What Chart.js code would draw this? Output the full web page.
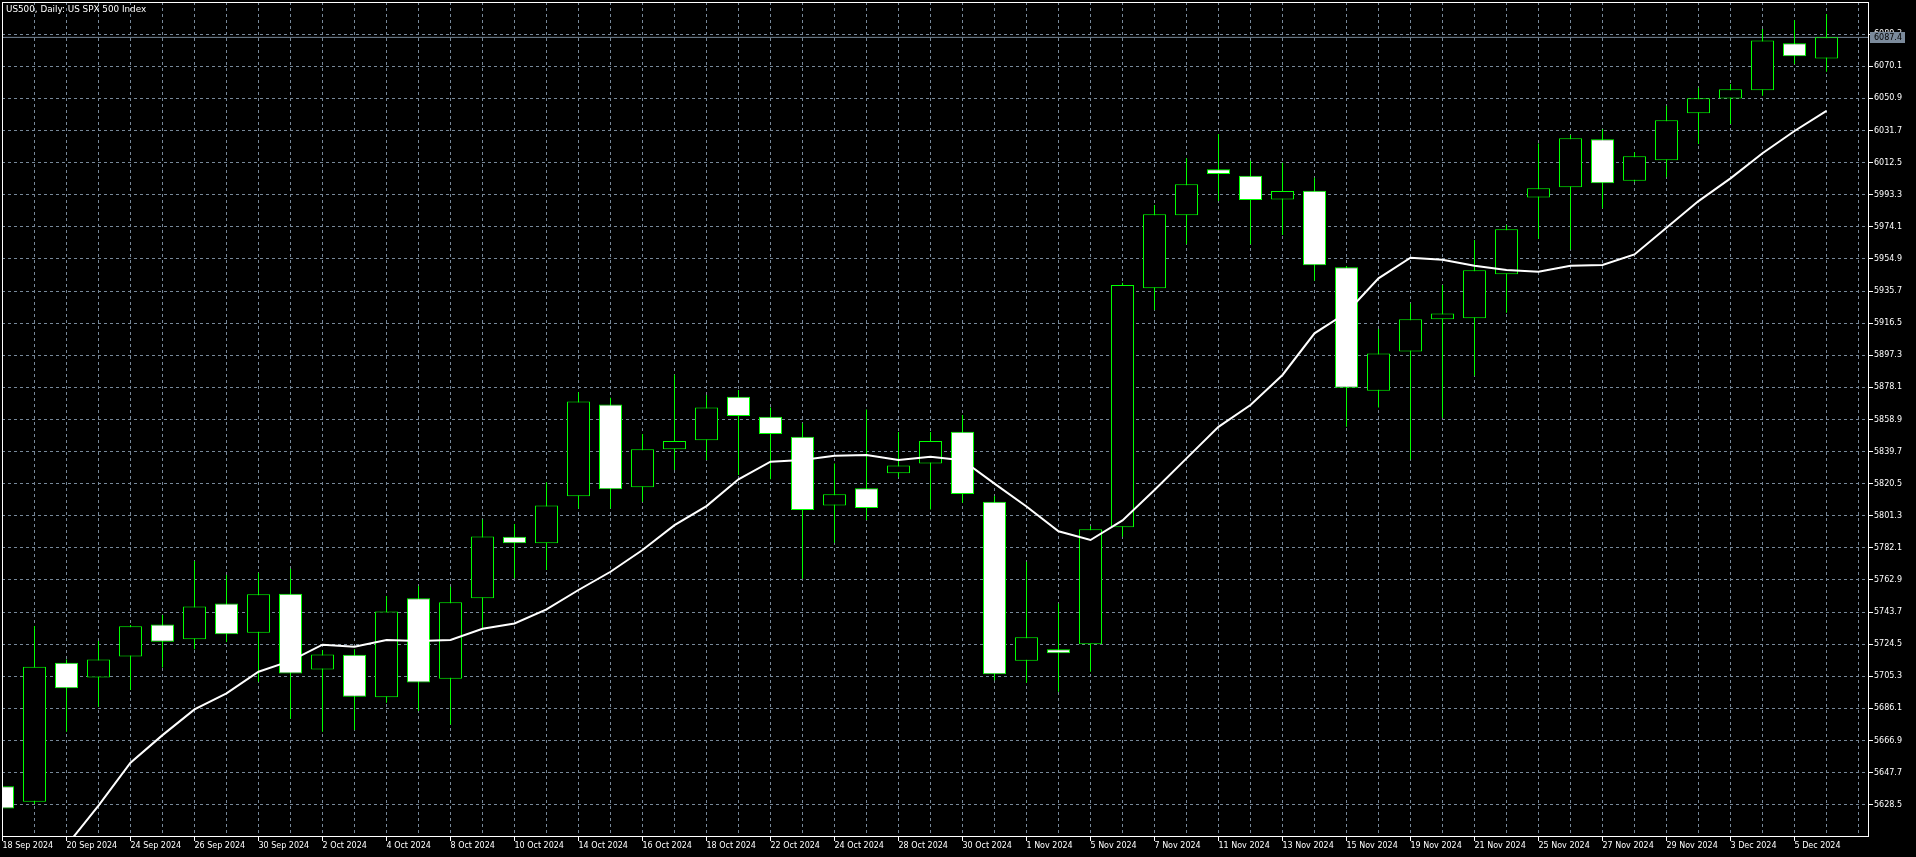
<!DOCTYPE html>
<html><head><meta charset="utf-8">
<script src="https://cdn.jsdelivr.net/npm/chart.js@4.4.1/dist/chart.umd.min.js"></script>
<style>html,body{margin:0;padding:0;background:#000;overflow:hidden}canvas{display:block}</style>
</head><body>
<canvas id="c" width="1916" height="857"></canvas>
<script>
const chartTitle = 'US500, Daily: US SPX 500 Index';

const dates = ['18 Sep 2024','19 Sep 2024','20 Sep 2024','23 Sep 2024','24 Sep 2024','25 Sep 2024','26 Sep 2024','27 Sep 2024','30 Sep 2024',
  '1 Oct 2024','2 Oct 2024','3 Oct 2024','4 Oct 2024','7 Oct 2024','8 Oct 2024','9 Oct 2024','10 Oct 2024','11 Oct 2024','14 Oct 2024','15 Oct 2024',
  '16 Oct 2024','17 Oct 2024','18 Oct 2024','21 Oct 2024','22 Oct 2024','23 Oct 2024','24 Oct 2024','25 Oct 2024','28 Oct 2024','29 Oct 2024',
  '30 Oct 2024','31 Oct 2024','1 Nov 2024','4 Nov 2024','5 Nov 2024','6 Nov 2024','7 Nov 2024','8 Nov 2024','11 Nov 2024','12 Nov 2024',
  '13 Nov 2024','14 Nov 2024','15 Nov 2024','18 Nov 2024','19 Nov 2024','20 Nov 2024','21 Nov 2024','22 Nov 2024','25 Nov 2024','26 Nov 2024',
  '27 Nov 2024','28 Nov 2024','29 Nov 2024','2 Dec 2024','3 Dec 2024','4 Dec 2024','5 Dec 2024','6 Dec 2024'];

const open = [5639.6,5630.2,5713.4,5704.6,5717.2,5736.3,5727.4,5748.9,5731.3,5754.7,
  5709.4,5718.2,5692.7,5751.9,5703.8,5751.9,5788.7,5784.8,5812.9,5867.9,
  5818.3,5841.0,5846.4,5872.5,5860.5,5848.6,5807.5,5817.7,5826.7,5832.6,
  5851.6,5809.7,5714.6,5721.4,5724.4,5794.4,5937.3,5981.0,6008.5,6004.7,
  5990.5,5995.7,5949.9,5876.0,5899.6,5918.8,5919.4,5945.7,5991.7,5997.7,
  6026.4,6001.7,6013.9,6042.0,6050.9,6055.7,6083.9,6074.7];
const high = [5643.0,5735.3,5715.4,5726.4,5736.0,5741.9,5774.2,5765.8,5767.2,5769.6,
  5721.0,5721.4,5753.3,5759.3,5758.9,5799.1,5796.3,5821.3,5875.1,5871.9,
  5850.2,5885.6,5873.5,5876.5,5866.1,5856.6,5832.6,5864.9,5851.4,5851.4,
  5861.5,5813.1,5773.8,5748.9,5795.1,5940.7,5987.1,6015.1,6029.6,6013.6,
  6012.4,6003.5,5950.7,5913.0,5928.3,5939.3,5966.2,5975.2,6024.0,6029.0,
  6032.4,6018.7,6046.5,6057.3,6059.5,6092.4,6097.8,6101.4];
const low = [5623.0,5628.9,5672.1,5687.1,5697.1,5710.6,5721.4,5725.8,5702.0,5679.9,
  5672.1,5673.1,5689.5,5684.5,5676.5,5733.7,5763.9,5768.8,5805.7,5805.7,
  5809.7,5828.7,5834.6,5825.7,5823.1,5763.6,5785.2,5798.7,5824.3,5805.1,
  5809.1,5703.0,5701.4,5696.0,5708.0,5788.7,5924.3,5963.6,5989.5,5963.6,
  5969.2,5941.9,5854.5,5866.1,5835.0,5859.9,5885.0,5922.7,5967.0,5960.6,
  5985.2,6001.0,6003.7,6023.6,6035.6,6052.5,6071.5,6066.9];
const close = [5626.3,5711.0,5698.1,5715.4,5735.2,5725.9,5747.1,5730.4,5754.3,5707.0,
  5718.4,5693.0,5744.1,5701.6,5749.5,5788.9,5784.8,5807.5,5869.7,5817.1,
  5841.0,5846.0,5866.1,5860.9,5850.2,5804.7,5814.1,5805.9,5831.4,5846.0,
  5814.3,5706.5,5728.6,5719.0,5793.2,5939.3,5981.6,5999.5,6005.7,5990.1,
  5995.5,5951.1,5877.9,5898.4,5918.8,5922.3,5948.1,5972.6,5997.1,6027.0,
  6000.1,6016.3,6037.8,6051.0,6056.3,6085.6,6076.1,6087.4];
const ma10 = [null,null,5604.0,5628.0,5653.6,5670.1,5685.5,5695.1,5708.0,5714.5,
  5724.2,5723.0,5727.0,5726.4,5727.0,5733.7,5736.9,5745.3,5756.9,5767.8,
  5780.8,5795.7,5807.1,5823.1,5833.6,5834.6,5837.2,5837.6,5834.6,5836.6,
  5834.5,5820.5,5806.8,5792.0,5786.8,5798.5,5816.7,5835.6,5854.5,5867.5,
  5885.5,5910.4,5922.7,5943.3,5955.6,5954.4,5950.8,5948.3,5947.2,5950.8,
  5951.3,5957.6,5973.6,5989.5,6003.1,6018.1,6031.4,6043.4];

const priceTicks = [5628.5,5647.7,5666.9,5686.1,5705.3,5724.5,5743.7,5762.9,5782.1,5801.3,5820.5,5839.7,5858.9,
  5878.1,5897.3,5916.5,5935.7,5954.9,5974.1,5993.3,6012.5,6031.7,6050.9,6070.1,6089.3];
const yMin = 5609.78, yMax = 6108.55;
const xMin = -0.5/32, xMax = -0.5/32 + 1866/32;

const GREEN = '#00ff00';
const GRID = '#778899';
const FONT = 'DejaVu Sans';

const decor = {
  id: 'decor',
  afterDraw(chart) {
    const {ctx, chartArea: a, scales} = chart;
    ctx.save();
    ctx.strokeStyle = '#ffffff'; ctx.lineWidth = 1;
    ctx.strokeRect(a.left + 0.5, a.top + 0.5, a.right - a.left, a.bottom - a.top);
    ctx.fillStyle = '#ffffff';
    ctx.font = '8.8px "' + FONT + '"';
    ctx.textBaseline = 'middle'; ctx.textAlign = 'left';
    ctx.fillText(chartTitle, 6, 10);
    const last = close[close.length - 1];
    const y = scales.y.getPixelForValue(last);
    ctx.fillStyle = '#7b8a9b';
    ctx.fillRect(a.right + 2, Math.round(y) - 5, 35, 11);
    ctx.fillStyle = '#000000';
    ctx.font = '8px "' + FONT + '"';
    ctx.fillText(last.toFixed(1), a.right + 6, y + 0.5);
    ctx.restore();
  }
};

const lastClose = close[close.length - 1];

new Chart(document.getElementById('c'), {
  type: 'bar',
  data: {
    datasets: [
      { type: 'line', label: 'MA', data: ma10.map((v, i) => ({x: i, y: v})),
        borderColor: '#ffffff', borderWidth: 2, pointRadius: 0, tension: 0, order: 0 },
      { type: 'bar', label: 'body', data: open.map((o, i) => ({x: i, y: [o, close[i]]})),
        backgroundColor: open.map((o, i) => close[i] >= o ? '#000000' : '#ffffff'),
        borderColor: GREEN, borderWidth: 1, borderSkipped: false,
        barThickness: 23, grouped: false, inflateAmount: 0, order: 1 },
      { type: 'bar', label: 'wick', data: high.map((h, i) => ({x: i, y: [low[i], h]})),
        backgroundColor: GREEN, borderWidth: 0, barThickness: 1, grouped: false, inflateAmount: 0, order: 2 },
      { type: 'line', label: 'price', data: [{x: xMin, y: lastClose}, {x: xMax, y: lastClose}],
        borderColor: GRID, borderWidth: 1, pointRadius: 0, order: 3 }
    ]
  },
  options: {
    responsive: false, animation: false, devicePixelRatio: 1, events: [],
    layout: { padding: { left: 2, top: 2, right: 0, bottom: 0 } },
    plugins: { legend: { display: false }, tooltip: { enabled: false }, title: { display: false } },
    scales: {
      x: {
        type: 'linear', position: 'bottom', min: xMin, max: xMax, offset: false,
        ticks: {
          stepSize: 1, includeBounds: false, autoSkip: false, maxRotation: 0, minRotation: 0,
          align: 'start', padding: 0, color: '#ffffff', font: { family: FONT, size: 8 },
          callback: (v) => (Number.isInteger(v) && v % 2 === 0 && v < dates.length) ? dates[v] : ''
        },
        grid: {
          offset: false, color: GRID, lineWidth: 1, tickLength: 5, tickWidth: 1, tickBorderDash: [],
          tickColor: (c) => (c.tick && Number.isInteger(c.tick.value) && c.tick.value % 2 === 0 && c.tick.value < dates.length) ? '#ffffff' : 'rgba(0,0,0,0)'
        },
        border: { display: false, dash: [3, 3] },
        afterFit(s) { s.height = 21; s.paddingLeft = 0; s.paddingRight = 0; }
      },
      y: {
        type: 'linear', position: 'right', min: yMin, max: yMax,
        afterBuildTicks(s) { s.ticks = priceTicks.map(v => ({ value: v })); },
        ticks: { color: '#ffffff', padding: 1, font: { family: FONT, size: 8 }, callback: (v) => Number(v).toFixed(1) },
        grid: { color: GRID, lineWidth: 1, tickLength: 5, tickWidth: 1, tickColor: '#ffffff', tickBorderDash: [] },
        border: { display: false, dash: [3, 3] },
        afterFit(s) { s.width = 48; s.paddingTop = 0; s.paddingBottom = 0; }
      }
    }
  },
  plugins: [decor]
});
</script>
</body></html>
